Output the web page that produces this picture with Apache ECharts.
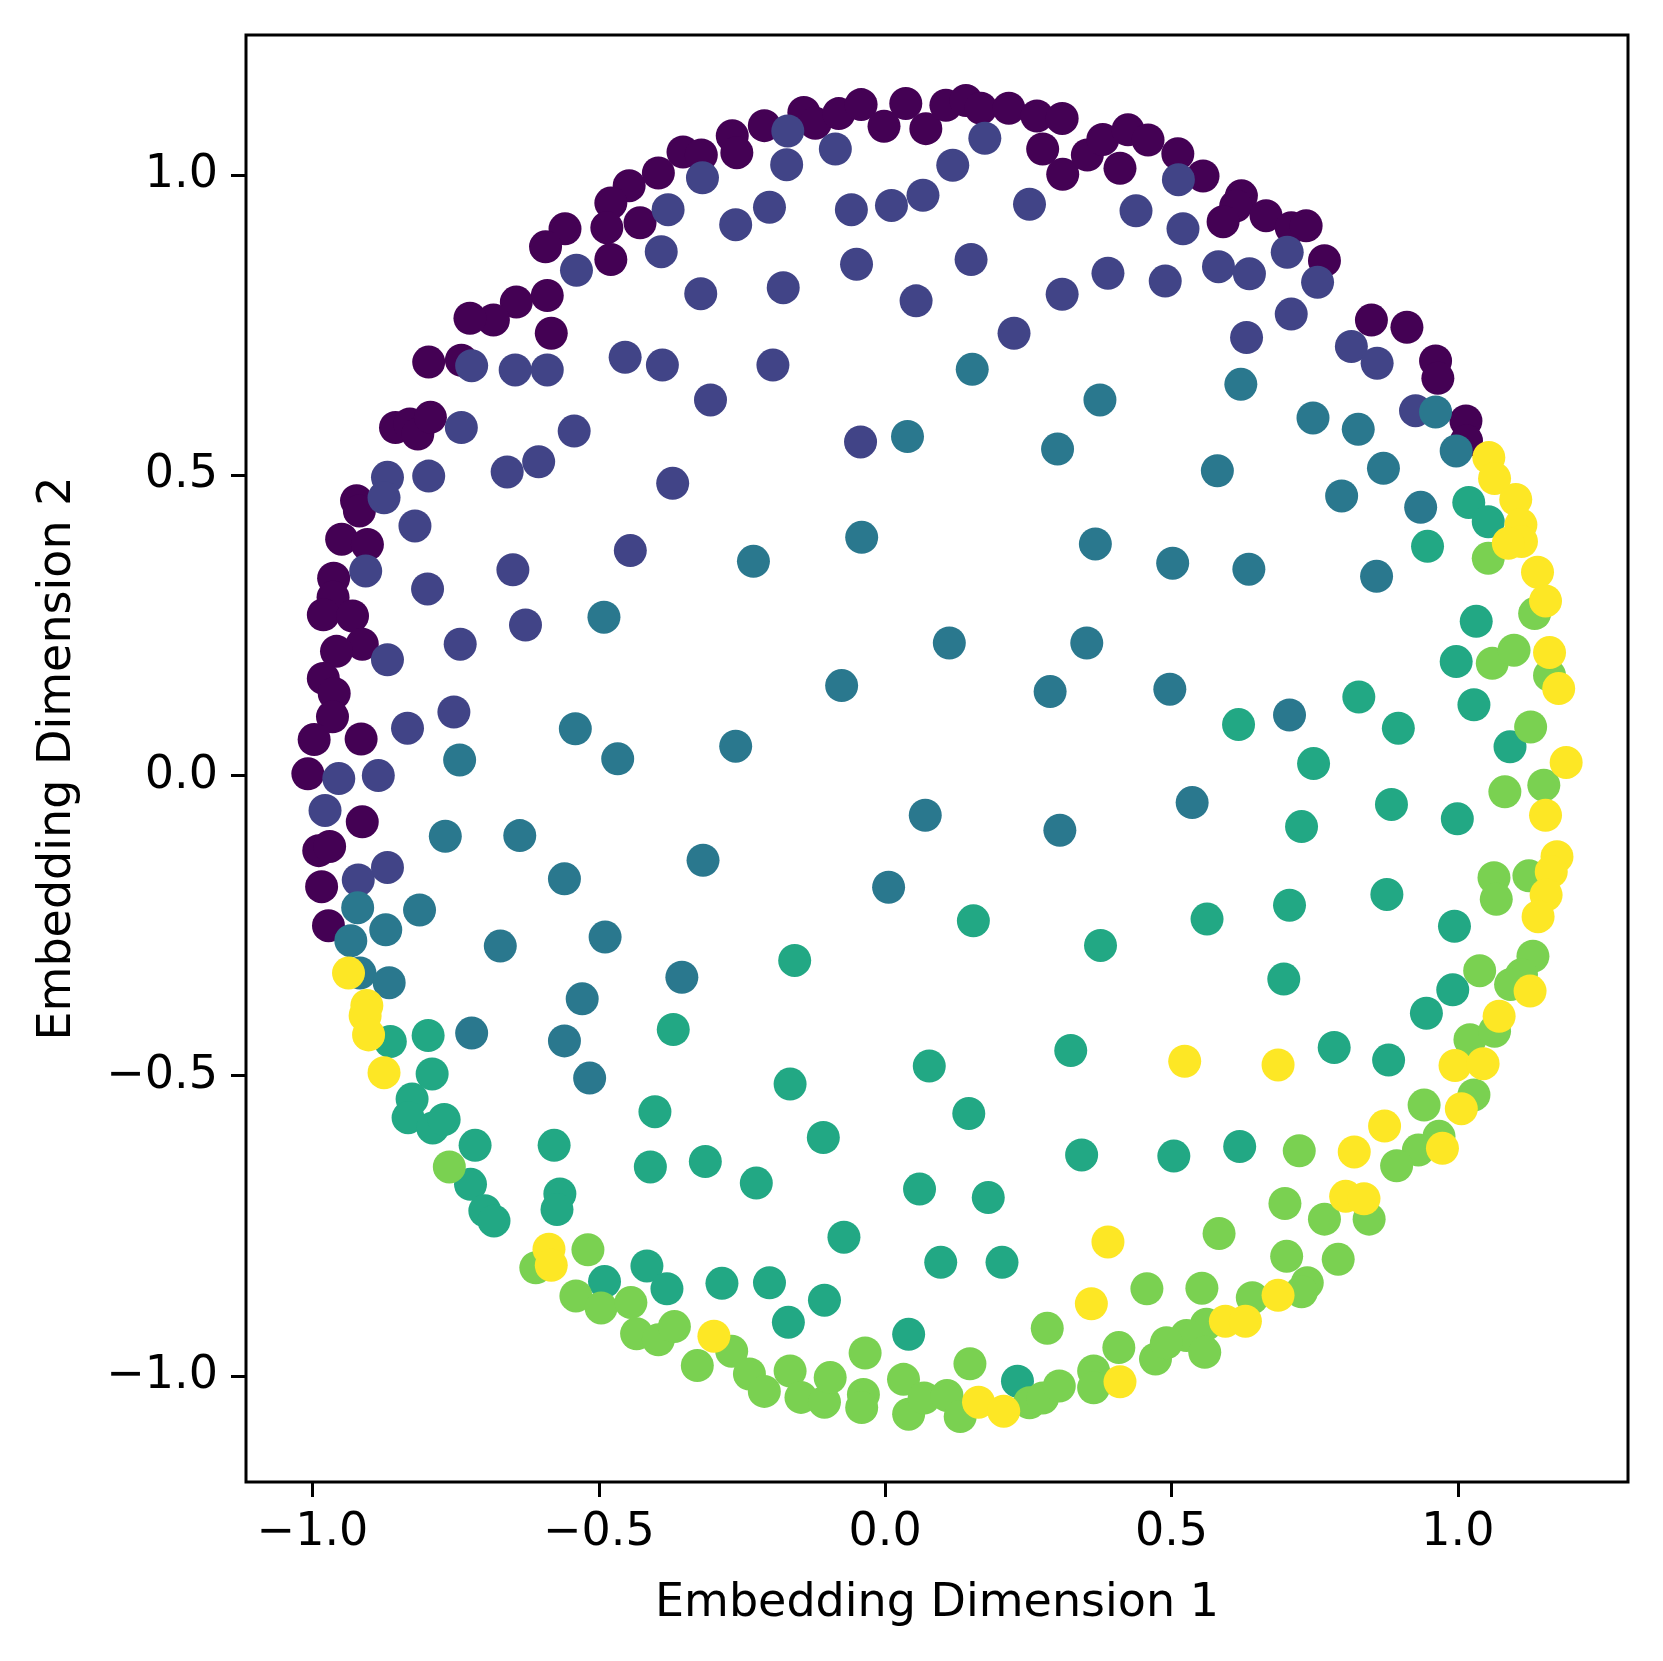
<!DOCTYPE html>
<html>
<head>
<meta charset="utf-8">
<script src="https://cdn.jsdelivr.net/npm/echarts@6/dist/echarts.min.js"></script>
<style>
  html, body { margin: 0; padding: 0; background: #fff; }
  #chart { width: 1663px; height: 1661px; }
</style>
</head>
<body>
<div id="chart"></div>
<script>
// embedding points, one list per label (viridis order)
const class0 = [
  [-0.353,1.039],[-0.321,1.034],[-0.396,1.004],[-0.447,0.983],[-0.479,0.954],[-0.486,0.913],[-0.428,0.921],[-0.479,0.860],
  [-0.559,0.911],[-0.593,0.881],[-0.590,0.800],[-0.644,0.789],[-0.684,0.759],[-0.725,0.762],[-0.583,0.737],[-0.797,0.689],
  [-0.740,0.692],[-0.855,0.580],[-0.830,0.586],[-0.816,0.569],[-0.794,0.597],[-0.923,0.458],[-0.918,0.441],
  [-0.267,1.066],[-0.259,1.038],[-0.211,1.083],[-0.142,1.105],[-0.122,1.087],[-0.081,1.103],[-0.042,1.118],[-0.002,1.082],
  [0.036,1.120],[0.071,1.078],[0.106,1.117],[0.141,1.125],[0.167,1.112],[0.216,1.112],[0.265,1.099],[0.275,1.044],
  [0.309,1.095],[0.310,1.002],[0.353,1.034],[0.380,1.060],[0.424,1.076],[0.410,1.012],[0.459,1.059],
  [0.511,1.036],[0.555,0.999],[0.622,0.966],[0.612,0.949],[0.590,0.923],[0.665,0.933],[0.709,0.913],[0.735,0.916],
  [0.767,0.858],[0.849,0.759],[0.911,0.747],[0.961,0.691],[0.965,0.662],[1.014,0.591],[1.015,0.558],
  [-0.949,0.394],[-0.904,0.385],[-0.963,0.329],[-0.964,0.297],[-0.981,0.268],[-0.930,0.266],[-0.913,0.219],[-0.958,0.207],
  [-0.981,0.162],[-0.962,0.137],[-0.965,0.098],[-0.997,0.060],[-0.915,0.061],[-1.008,0.003],[-0.913,-0.077],[-0.989,-0.125],
  [-0.970,-0.118],[-0.984,-0.185],[-0.972,-0.250]
];
const class1 = [
  [-0.319,0.996],[-0.379,0.943],[-0.391,0.873],[-0.539,0.842],[-0.322,0.803],[-0.454,0.697],[-0.389,0.684],[-0.305,0.626],
  [-0.722,0.683],[-0.646,0.676],[-0.590,0.676],[-0.740,0.580],[-0.543,0.574],[-0.605,0.523],[-0.660,0.506],[-0.371,0.487],
  [-0.869,0.497],[-0.797,0.499],[-0.875,0.463],
  [-0.170,1.074],[-0.172,1.018],[-0.087,1.044],[0.174,1.062],[0.118,1.017],[-0.261,0.918],[-0.202,0.947],[-0.059,0.943],
  [0.011,0.950],[0.066,0.967],[0.252,0.952],[0.438,0.941],[-0.178,0.813],[-0.050,0.852],[0.150,0.860],[0.054,0.791],
  [0.309,0.802],[0.389,0.837],[0.489,0.824],[0.225,0.737],[-0.196,0.684],[-0.043,0.556],
  [0.512,0.993],[0.520,0.911],[0.582,0.848],[0.636,0.836],[0.702,0.872],[0.755,0.822],[0.709,0.769],[0.631,0.730],
  [0.814,0.715],[0.859,0.687],[0.926,0.608],
  [-0.821,0.416],[-0.907,0.341],[-0.799,0.311],[-0.650,0.343],[-0.445,0.375],[-0.628,0.251],[-0.742,0.219],[-0.869,0.193],
  [-0.753,0.106],[-0.834,0.079],[-0.954,-0.005],[-0.885,0.000],[-0.978,-0.058],[-0.869,-0.153],[-0.920,-0.174]
];
const class2 = [
  [0.152,0.677],[0.375,0.626],[0.039,0.565],[0.301,0.544],
  [0.961,0.606],[0.997,0.541],[0.621,0.652],[0.747,0.596],[0.826,0.577],[0.870,0.512],[0.580,0.508],[0.797,0.466],[0.935,0.447],
  [-0.491,0.264],[-0.541,0.078],[-0.743,0.026],[-0.467,0.028],[-0.768,-0.101],[-0.638,-0.100],[-0.318,-0.141],[-0.560,-0.172],
  [-0.921,-0.220],[-0.813,-0.224],[-0.872,-0.257],[-0.933,-0.275],[-0.672,-0.284],[-0.489,-0.269],[-0.917,-0.329],[-0.866,-0.345],
  [-0.355,-0.336],
  [-0.230,0.357],[-0.041,0.397],[0.367,0.386],[0.112,0.221],[0.352,0.221],[-0.076,0.150],[0.288,0.140],[-0.261,0.049],
  [0.070,-0.066],[0.305,-0.091],[0.006,-0.186],
  [0.502,0.354],[0.635,0.344],[0.858,0.332],[0.497,0.144],[0.706,0.101],[0.536,-0.045],
  [-0.529,-0.372],[-0.722,-0.429],[-0.560,-0.442],[-0.516,-0.504]
];
const class3 = [
  [1.019,0.455],
  [0.154,-0.242],[-0.158,-0.308],[0.376,-0.283],
  [1.053,0.423],[0.947,0.382],[1.032,0.257],[0.997,0.190],[1.028,0.118],[0.827,0.131],[0.617,0.085],[0.896,0.079],
  [1.091,0.048],[0.748,0.020],[0.884,-0.048],[0.727,-0.085],[0.999,-0.072],[0.876,-0.198],[0.706,-0.216],[0.562,-0.239],
  [0.994,-0.251],[0.696,-0.339],[0.991,-0.357],
  [-0.864,-0.443],[-0.798,-0.433],[-0.791,-0.497],[-0.826,-0.539],[-0.833,-0.570],[-0.790,-0.587],[-0.770,-0.573],[-0.716,-0.616],
  [-0.724,-0.681],[-0.699,-0.725],[-0.683,-0.742],[-0.578,-0.616],[-0.568,-0.697],[-0.573,-0.723],[-0.370,-0.423],[-0.402,-0.560],
  [-0.410,-0.652],[-0.314,-0.643],[-0.490,-0.843],[-0.416,-0.817],[-0.381,-0.855],
  [-0.166,-0.514],[-0.108,-0.603],[-0.225,-0.679],[0.077,-0.484],[0.146,-0.563],[0.324,-0.458],[0.343,-0.632],[0.060,-0.689],
  [0.180,-0.703],[-0.072,-0.769],[0.097,-0.811],[0.204,-0.811],[-0.285,-0.846],[-0.202,-0.845],[-0.106,-0.874],[-0.169,-0.911],
  [0.041,-0.931],[0.231,-1.009],
  [0.945,-0.396],[0.784,-0.453],[0.879,-0.474],[0.504,-0.634],[0.619,-0.618]
];
const class4 = [
  [1.053,0.362],[1.134,0.270],[1.060,0.187],[1.098,0.209],[1.160,0.167],[1.127,0.081],[1.082,-0.027],[1.150,-0.016],
  [1.063,-0.170],[1.067,-0.206],[1.124,-0.167],[1.131,-0.301],[1.038,-0.325],[1.111,-0.332],[1.092,-0.348],
  [-0.761,-0.652],[-0.519,-0.790],[-0.610,-0.820],[-0.540,-0.867],[-0.496,-0.887],[-0.444,-0.878],[-0.434,-0.930],[-0.396,-0.940],
  [-0.368,-0.918],[-0.328,-0.983],
  [-0.268,-0.959],[-0.237,-0.997],[-0.211,-1.026],[-0.166,-0.992],[-0.147,-1.036],[-0.106,-1.044],[-0.096,-1.003],[-0.035,-0.962],
  [-0.038,-1.031],[-0.041,-1.053],[0.032,-1.006],[0.041,-1.064],[0.068,-1.037],[0.108,-1.033],[0.131,-1.068],[0.148,-0.980],
  [0.252,-1.045],[0.275,-1.037],[0.304,-1.017],[0.364,-0.992],[0.364,-1.020],[0.283,-0.921],[0.408,-0.953],[0.457,-0.855],
  [0.472,-0.972],
  [1.021,-0.440],[1.064,-0.426],[1.028,-0.532],[0.941,-0.549],[0.967,-0.601],[0.931,-0.624],[0.893,-0.650],[0.723,-0.625],
  [0.698,-0.713],[0.767,-0.739],[0.845,-0.739],[0.583,-0.763],[0.701,-0.801],[0.791,-0.806],[0.553,-0.854],[0.737,-0.845],
  [0.727,-0.860],[0.641,-0.870],[0.561,-0.914],[0.526,-0.933],[0.558,-0.961],[0.491,-0.945]
];
const class5 = [
  [1.054,0.530],[1.064,0.495],[1.101,0.460],
  [-0.937,-0.329],
  [1.110,0.418],[1.111,0.390],[1.088,0.387],[1.139,0.339],[1.153,0.291],[1.160,0.205],[1.176,0.145],[1.189,0.022],
  [1.153,-0.066],[1.173,-0.135],[1.163,-0.160],[1.154,-0.199],[1.140,-0.235],[1.126,-0.359],
  [-0.905,-0.383],[-0.908,-0.400],[-0.902,-0.432],[-0.875,-0.495],[-0.587,-0.789],[-0.583,-0.816],
  [-0.299,-0.934],[0.389,-0.777],[0.360,-0.880],[0.163,-1.044],[0.207,-1.059],[0.410,-1.010],
  [1.072,-0.401],[0.523,-0.476],[0.686,-0.482],[0.995,-0.483],[1.044,-0.480],[1.006,-0.555],[0.872,-0.584],[0.973,-0.621],
  [0.819,-0.627],[0.804,-0.701],[0.836,-0.705],[0.686,-0.866],[0.594,-0.909],[0.629,-0.909]
];

const classes = [class0, class1, class2, class3, class4, class5];
const colors = ['#440154', '#414487', '#2a788e', '#22a884', '#7ad151', '#fde725'];
const tickValues = [-1.0, -0.5, 0.0, 0.5, 1.0];

const chart = echarts.init(document.getElementById('chart'));

const fmt = v => (v < 0 ? '\u2212' : '') + Math.abs(v).toFixed(1);
const font = 'DejaVu Sans';

const option = {
  animation: false,
  backgroundColor: '#fff',
  grid: {
    left: 246, top: 35, right: 35, bottom: 179,
    show: true, borderColor: '#000', borderWidth: 3, backgroundColor: 'transparent'
  },
  xAxis: {
    type: 'value',
    min: -1.116, max: 1.297,
    name: 'Embedding Dimension 1',
    nameLocation: 'middle',
    nameGap: 99,
    nameTextStyle: { fontFamily: font, fontSize: 46, color: '#000' },
    axisLine: { show: false, onZero: false },
    splitLine: { show: false },
    axisTick: { show: true, inside: false, length: 15, lineStyle: { color: '#000', width: 3 }, customValues: tickValues },
    axisLabel: { customValues: tickValues, formatter: fmt, fontFamily: font, fontSize: 46, color: '#000', margin: 28 }
  },
  yAxis: {
    type: 'value',
    min: -1.177, max: 1.234,
    name: 'Embedding Dimension 2',
    nameLocation: 'middle',
    nameGap: 165,
    nameRotate: 90,
    nameTextStyle: { fontFamily: font, fontSize: 46, color: '#000' },
    axisLine: { show: false, onZero: false },
    splitLine: { show: false },
    axisTick: { show: true, inside: false, length: 15, lineStyle: { color: '#000', width: 3 }, customValues: tickValues },
    axisLabel: { customValues: tickValues, formatter: fmt, fontFamily: font, fontSize: 46, color: '#000', margin: 28 }
  },
  series: classes.map((pts, i) => ({
    type: 'scatter',
    data: pts,
    symbolSize: 33,
    itemStyle: { color: colors[i], opacity: 1 },
    emphasis: { disabled: true },
    silent: true
  }))
};

chart.setOption(option);
</script>
</body>
</html>
